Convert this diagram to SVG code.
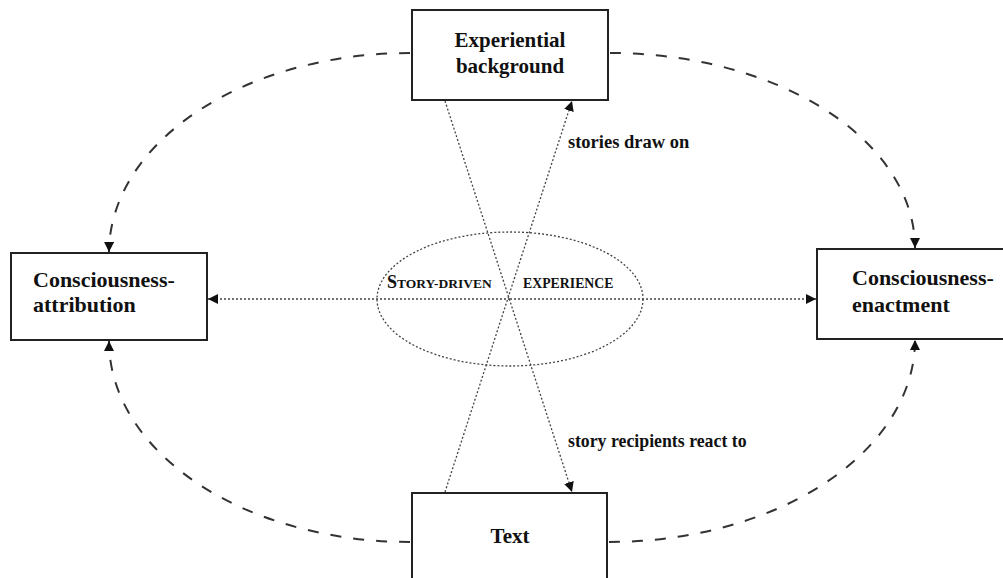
<svg xmlns="http://www.w3.org/2000/svg" width="1003" height="578" viewBox="0 0 1003 578">
<style>
.box{fill:#fff;stroke:#222;stroke-width:2}
.lbl{font-family:"Liberation Serif",serif;font-weight:bold;fill:#111}
.dash{fill:none;stroke:#333;stroke-width:2;stroke-dasharray:11 12}
.dot{fill:none;stroke:#444;stroke-width:1.3;stroke-dasharray:2 2}
</style>
<defs>
<marker id="ah" viewBox="0 0 10 10" refX="10" refY="5" markerWidth="10" markerHeight="10" markerUnits="userSpaceOnUse" orient="auto">
<path d="M0,0 L10,5 L0,10 z" fill="#111"/>
</marker>
</defs>
<rect width="1003" height="578" fill="#fff"/>
<g id="connectors">
<path class="dash" d="M410,53 A301,200 0 0 0 109,252" marker-end="url(#ah)"/>
<path class="dash" d="M610,53 A305,195 0 0 1 915,248" marker-end="url(#ah)"/>
<path class="dash" d="M410,542 A301,201 0 0 1 109,341" marker-end="url(#ah)"/>
<path class="dash" d="M609,542 A306,202 0 0 0 915,340" marker-end="url(#ah)"/>
<ellipse class="dot" cx="510" cy="299" rx="133" ry="67"/>
<line class="dot" x1="510" y1="299" x2="208" y2="299" marker-end="url(#ah)"/>
<line class="dot" x1="510" y1="299" x2="816" y2="299" marker-end="url(#ah)"/>
<line class="dot" x1="445" y1="101" x2="572" y2="492" marker-end="url(#ah)"/>
<line class="dot" x1="445" y1="492" x2="572" y2="101" marker-end="url(#ah)"/>
<text class="lbl" x="568" y="148" font-size="18.5">stories draw on</text>
<text class="lbl" x="568" y="447" font-size="17.8">story recipients react to</text>
<text class="lbl" x="387" y="288" font-size="13.5"><tspan font-size="18">S</tspan>TORY-DRIVEN</text>
<text class="lbl" x="523" y="288" font-size="13.8">EXPERIENCE</text>
</g>
<g id="experiential">
<rect class="box" x="412" y="10" width="196" height="90"/>
<text class="lbl" x="510" y="47" font-size="21" text-anchor="middle">Experiential</text>
<text class="lbl" x="510" y="73" font-size="21" text-anchor="middle">background</text>
</g>
<g id="attribution">
<rect class="box" x="11" y="253" width="196" height="87"/>
<text class="lbl" x="33" y="287" font-size="22">Consciousness-</text>
<text class="lbl" x="33" y="312" font-size="22">attribution</text>
</g>
<g id="enactment">
<rect class="box" x="817" y="249" width="190" height="90"/>
<text class="lbl" x="852" y="285" font-size="22">Consciousness-</text>
<text class="lbl" x="852" y="312" font-size="22">enactment</text>
</g>
<g id="text">
<rect class="box" x="412" y="493" width="195" height="95"/>
<text class="lbl" x="510" y="543" font-size="21" text-anchor="middle">Text</text>
</g>
</svg>
